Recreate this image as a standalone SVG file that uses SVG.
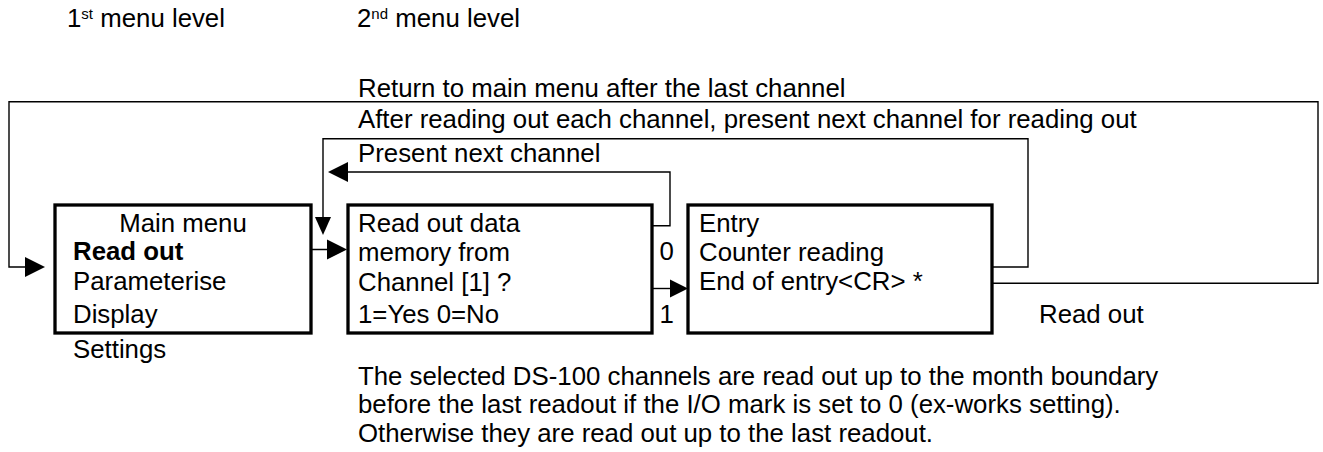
<svg xmlns="http://www.w3.org/2000/svg" width="1323" height="452" viewBox="0 0 1323 452">
  <style>
    text { font-family: "Liberation Sans", Arial, sans-serif; font-size: 25.8px; fill: #000; }
    .bold { font-weight: bold; }
    .sup { font-size: 15px; }
    .box { fill: #fff; stroke: #000; stroke-width: 3.3; }
    .wire { fill: none; stroke: #000; stroke-width: 1.4; }
    .head { fill: #000; stroke: none; }
  </style>
  <rect width="1323" height="452" fill="#fff"/>

  <!-- column headings -->
  <g id="headings">
    <text x="67" y="27">1<tspan class="sup" dy="-8">st</tspan><tspan dy="8"> menu level</tspan></text>
    <text x="357" y="27">2<tspan class="sup" dy="-8">nd</tspan><tspan dy="8"> menu level</tspan></text>
  </g>

  <!-- connectors -->
  <g id="connectors">
    <!-- return to main menu after the last channel -->
    <polyline class="wire" points="992,283.3 1318,283.3 1318,101.7 9,101.7 9,267 27,267"/>
    <polygon class="head" points="25,257 45,267 25,277"/>
    <!-- after each channel, present next channel -->
    <polyline class="wire" points="992,267 1028,267 1028,138.7 323,138.7 323,218"/>
    <polygon class="head" points="315,217 331,217 323,235"/>
    <!-- present next channel (answer 0) -->
    <polyline class="wire" points="652,225.7 670,225.7 670,172 346,172"/>
    <polygon class="head" points="348,162 328,172 348,182"/>
    <!-- Read out selection -->
    <line class="wire" x1="217" y1="249.5" x2="329" y2="249.5"/>
    <polygon class="head" points="327,239.5 347,249.5 327,259.5"/>
    <!-- answer 1 -->
    <line class="wire" x1="652" y1="288.5" x2="672" y2="288.5"/>
    <polygon class="head" points="670,279.5 688,288.5 670,297.5"/>
    <text x="659.5" y="260">0</text>
    <text x="659.5" y="323">1</text>
  </g>

  <text x="358" y="96.7">Return to main menu after the last channel</text>
  <text x="358" y="128">After reading out each channel, present next channel for reading out</text>
  <text x="358" y="161.7">Present next channel</text>

  <!-- 1st level: main menu -->
  <g id="main-menu">
    <rect class="box" x="55" y="205" width="256" height="128"/>
    <text x="183" y="232" text-anchor="middle">Main menu</text>
    <text class="bold" x="73" y="260">Read out</text>
    <text x="73" y="290">Parameterise</text>
    <text x="73" y="323">Display</text>
    <text x="73" y="358">Settings</text>
  </g>

  <!-- 2nd level: channel query -->
  <g id="channel-query">
    <rect class="box" x="348" y="205" width="304" height="128"/>
    <text x="358" y="232">Read out data</text>
    <text x="358" y="261">memory from</text>
    <text x="358" y="291">Channel [1] ?</text>
    <text x="358" y="323">1=Yes 0=No</text>
  </g>

  <!-- 2nd level: readout entry -->
  <g id="readout-entry">
    <rect class="box" x="688" y="205" width="304" height="128"/>
    <text x="699" y="232">Entry</text>
    <text x="699" y="261">Counter reading</text>
    <text x="699" y="290">End of entry&lt;CR&gt; *</text>
  </g>

  <g id="readout-label">
    <text x="1039" y="323">Read out</text>
  </g>

  <!-- note -->
  <g id="note">
    <text x="358" y="384.6">The selected DS-100 channels are read out up to the month boundary</text>
    <text x="358" y="413.4">before the last readout if the I/O mark is set to 0 (ex-works setting).</text>
    <text x="358" y="442.2">Otherwise they are read out up to the last readout.</text>
  </g>
</svg>
